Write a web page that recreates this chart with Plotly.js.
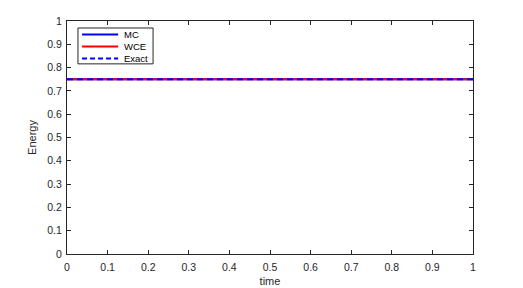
<!DOCTYPE html>
<html><head><meta charset="utf-8">
<script src="https://cdn.plot.ly/plotly-3.0.1.min.js"></script>
<style>html,body{margin:0;padding:0;background:#fff}</style>
</head><body>
<div id="chart" style="width:523px;height:288px"></div>
<script>
var time = [0, 0.1, 0.2, 0.3, 0.4, 0.5, 0.6, 0.7, 0.8, 0.9, 1];
var mcEnergy = [0.75, 0.75, 0.75, 0.75, 0.75, 0.75, 0.75, 0.75, 0.75, 0.75, 0.75];
var wceEnergy = [0.75, 0.75, 0.75, 0.75, 0.75, 0.75, 0.75, 0.75, 0.75, 0.75, 0.75];
var exactEnergy = [0.75, 0.75, 0.75, 0.75, 0.75, 0.75, 0.75, 0.75, 0.75, 0.75, 0.75];
var xTicks = [0, 0.1, 0.2, 0.3, 0.4, 0.5, 0.6, 0.7, 0.8, 0.9, 1];
var yTicks = [0, 0.1, 0.2, 0.3, 0.4, 0.5, 0.6, 0.7, 0.8, 0.9, 1];
var xTickText = ['0','0.1','0.2','0.3','0.4','0.5','0.6','0.7','0.8','0.9','1'];
var yTickText = ['0','0.1','0.2','0.3','0.4','0.5','0.6','0.7','0.8','0.9','1'];
var seriesNames = ['MC', 'WCE', 'Exact'];
var seriesColors = ['#0000ff', '#ff0000', '#0000ff'];
var seriesDash = ['solid', 'solid', '6px,4px'];

var FONT = 'Liberation Sans, Arial, sans-serif';
var seriesY = [mcEnergy, wceEnergy, exactEnergy];
var traces = seriesNames.map(function (n, i) {
  return {x: time, y: seriesY[i], name: n, mode: 'lines', showlegend: false,
    line: {color: seriesColors[i], width: 2, dash: seriesDash[i]}};
});

// compact MATLAB-style legend box (paper coordinates)
var lg = {x0: 0.027, x1: 0.212, y0: 0.816, y1: 0.970, lx0: 0.037, lx1: 0.126, tx: 0.135,
  rows: [0.942, 0.891, 0.839]};
var shapes = [{type: 'rect', xref: 'paper', yref: 'paper', x0: lg.x0, x1: lg.x1, y0: lg.y0, y1: lg.y1,
  line: {color: '#262626', width: 1}, fillcolor: '#fff', layer: 'above'}];
var annotations = [];
seriesNames.forEach(function (n, i) {
  shapes.push({type: 'line', xref: 'paper', yref: 'paper', x0: lg.lx0, x1: lg.lx1, y0: lg.rows[i], y1: lg.rows[i],
    line: {color: seriesColors[i], width: 2, dash: seriesDash[i] === 'solid' ? 'solid' : '5px,3px'}, layer: 'above'});
  annotations.push({xref: 'paper', yref: 'paper', x: lg.tx, y: lg.rows[i], xanchor: 'left', yanchor: 'middle',
    text: n, showarrow: false, font: {family: FONT, size: 9.5, color: '#000'}});
});

var axisCommon = {
  showgrid: false, zeroline: false, showline: true, mirror: 'ticks',
  linecolor: '#262626', linewidth: 1, ticks: 'inside', ticklen: 4,
  tickcolor: '#262626', tickfont: {family: FONT, size: 10.5, color: '#262626'}
};
var layout = {
  width: 523, height: 288,
  margin: {l: 67, r: 50, t: 21, b: 34},
  paper_bgcolor: '#fff', plot_bgcolor: '#fff',
  showlegend: false,
  shapes: shapes, annotations: annotations,
  xaxis: Object.assign({}, axisCommon, {range: [0, 1], tickvals: xTicks, ticktext: xTickText, ticklabelstandoff: 3,
    title: {text: 'time', font: {family: FONT, size: 11, color: '#262626'}, standoff: 5}}),
  yaxis: Object.assign({}, axisCommon, {range: [0, 1], tickvals: yTicks, ticktext: yTickText, ticklabelstandoff: 2,
    title: {text: 'Energy', font: {family: FONT, size: 11, color: '#262626'}, standoff: 8}})
};
Plotly.newPlot('chart', traces, layout, {staticPlot: true, displayModeBar: false});
</script>
</body></html>
